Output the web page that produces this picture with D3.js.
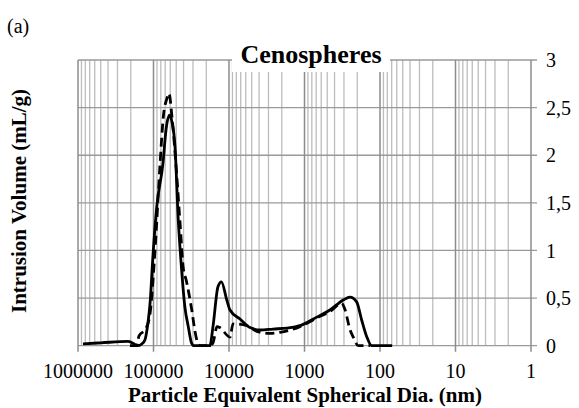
<!DOCTYPE html>
<html>
<head>
<meta charset="utf-8">
<script src="https://cdn.jsdelivr.net/npm/d3@7/dist/d3.min.js"></script>
<style>
  body { margin: 0; background: #fff; }
  svg text { font-family: "Liberation Serif", "Times New Roman", Times, "DejaVu Serif", serif; }
</style>
</head>
<body>
<svg id="chart" width="579" height="408"></svg>
<script>
// pore diameter (nm) and intrusion volume (mL/g)
const solidDia = [859000, 500000, 218000, 187000, 160000, 142000, 130000, 118000, 111000, 101600,
  90800, 74800, 68200, 61400, 56900, 51900, 47000, 43200, 38300, 34600, 31400, 29100,
  17900, 16300, 14000, 12600, 10700, 9700, 7150, 5270, 3880, 2610, 1700, 1150, 690, 460,
  306, 250, 204, 175, 150, 129, 69]
const solidVol = [0.02, 0.03, 0.045, 0.025, 0.0, 0.02, 0.06, 0.25, 0.45, 0.95,
  1.45, 1.92, 2.27, 2.42, 2.35, 2.09, 1.32, 0.88, 0.4, 0.2, 0.03, 0.0,
  0.0, 0.2, 0.62, 0.67, 0.48, 0.375, 0.28, 0.19, 0.165, 0.175, 0.185, 0.21, 0.3, 0.375,
  0.48, 0.51, 0.46, 0.27, 0.095, 0.0, 0.0]

const dashDia = [205000, 166000, 156000, 126000, 111000, 95500, 82000, 74200, 66200, 62400,
  56900, 50400, 44600, 40100, 37200, 31200, 28200, 25700, 24200, 17900, 16300, 14400,
  13200, 9700, 8850, 5780, 4260, 2870, 2110, 1150, 690, 460, 321, 291, 250, 226, 194, 136]
const dashVol = [0.0, 0.0, 0.1, 0.18, 0.34, 1.0, 1.9, 2.4, 2.6, 2.65,
  2.4, 1.9, 1.3, 0.8, 0.7, 0.38, 0.15, 0.02, 0.0, 0.0, 0.03, 0.2,
  0.19, 0.09, 0.23, 0.21, 0.15, 0.13, 0.14, 0.2, 0.29, 0.36, 0.445, 0.38, 0.17, 0.09, 0.0, 0.0]

const xTicks = [1000000, 100000, 10000, 1000, 100, 10, 1]
const yTicks = [0, 0.5, 1, 1.5, 2, 2.5, 3]

const svg = d3.select('#chart')
const plotLeft = 78, plotRight = 531, plotTop = 60, plotBottom = 345.7

const x = d3.scaleLog().domain([1000000, 1]).range([plotLeft, plotRight])
const y = d3.scaleLinear().domain([0, 3]).range([plotBottom, plotTop])
const isMajor = v => Math.abs(Math.log10(v) - Math.round(Math.log10(v))) < 1e-9

// vertical grid (minor first, majors on top)
const vx = x.ticks().filter(v => v >= 1 && v <= 1000000)
svg.append('g').selectAll('line')
  .data(vx.filter(v => !isMajor(v)))
  .enter().append('line')
  .attr('x1', d => x(d)).attr('x2', d => x(d))
  .attr('y1', plotTop).attr('y2', plotBottom)
  .attr('stroke', '#bdbdbd').attr('stroke-width', 1.3)

svg.append('g').selectAll('line')
  .data(yTicks)
  .enter().append('line')
  .attr('x1', plotLeft).attr('x2', plotRight + 6)
  .attr('y1', d => y(d)).attr('y2', d => y(d))
  .attr('stroke', '#9a9a9a').attr('stroke-width', 1.3)

svg.append('g').selectAll('line')
  .data(xTicks)
  .enter().append('line')
  .attr('x1', d => x(d)).attr('x2', d => x(d))
  .attr('y1', plotTop).attr('y2', plotBottom + 6)
  .attr('stroke', '#8c8c8c').attr('stroke-width', 1.5)

// title box hides the grid behind it
svg.append('rect')
  .attr('x', 232).attr('y', 36).attr('width', 158).attr('height', 36)
  .attr('fill', '#fff')
svg.append('text')
  .attr('x', 311).attr('y', 63)
  .attr('text-anchor', 'middle')
  .style('font-size', '26px').style('font-weight', 'bold')
  .text('Cenospheres')

// tick labels
svg.append('g').selectAll('text')
  .data(xTicks)
  .enter().append('text')
  .attr('x', d => x(d)).attr('y', 378)
  .attr('text-anchor', 'middle')
  .style('font-size', '20px')
  .text(d => String(d))

svg.append('g').selectAll('text')
  .data(yTicks)
  .enter().append('text')
  .attr('x', 546).attr('y', d => y(d))
  .attr('dy', '0.36em')
  .style('font-size', '20px')
  .text(d => String(d).replace('.', ','))

// series
const line = d3.line()
  .x(d => x(d[0]))
  .y(d => y(d[1]))
  .curve(d3.curveMonotoneX)

svg.append('path')
  .datum(dashDia.map((d, i) => [d, dashVol[i]]))
  .attr('d', line)
  .attr('fill', 'none').attr('stroke', '#000')
  .attr('stroke-width', 2.8).attr('stroke-dasharray', '9,5')

svg.append('path')
  .datum(solidDia.map((d, i) => [d, solidVol[i]]))
  .attr('d', line)
  .attr('fill', 'none').attr('stroke', '#000')
  .attr('stroke-width', 2.8).attr('stroke-linejoin', 'round')

// axis titles
svg.append('text')
  .attr('x', 305).attr('y', 402)
  .attr('text-anchor', 'middle')
  .style('font-size', '21px').style('font-weight', 'bold')
  .text('Particle Equivalent Spherical Dia. (nm)')

svg.append('text')
  .attr('transform', 'translate(26,201) rotate(-90)')
  .attr('text-anchor', 'middle')
  .style('font-size', '21px').style('font-weight', 'bold')
  .text('Intrusion Volume (mL/g)')

svg.append('text')
  .attr('x', 7).attr('y', 33)
  .style('font-size', '20px')
  .text('(a)')
</script>
</body>
</html>
